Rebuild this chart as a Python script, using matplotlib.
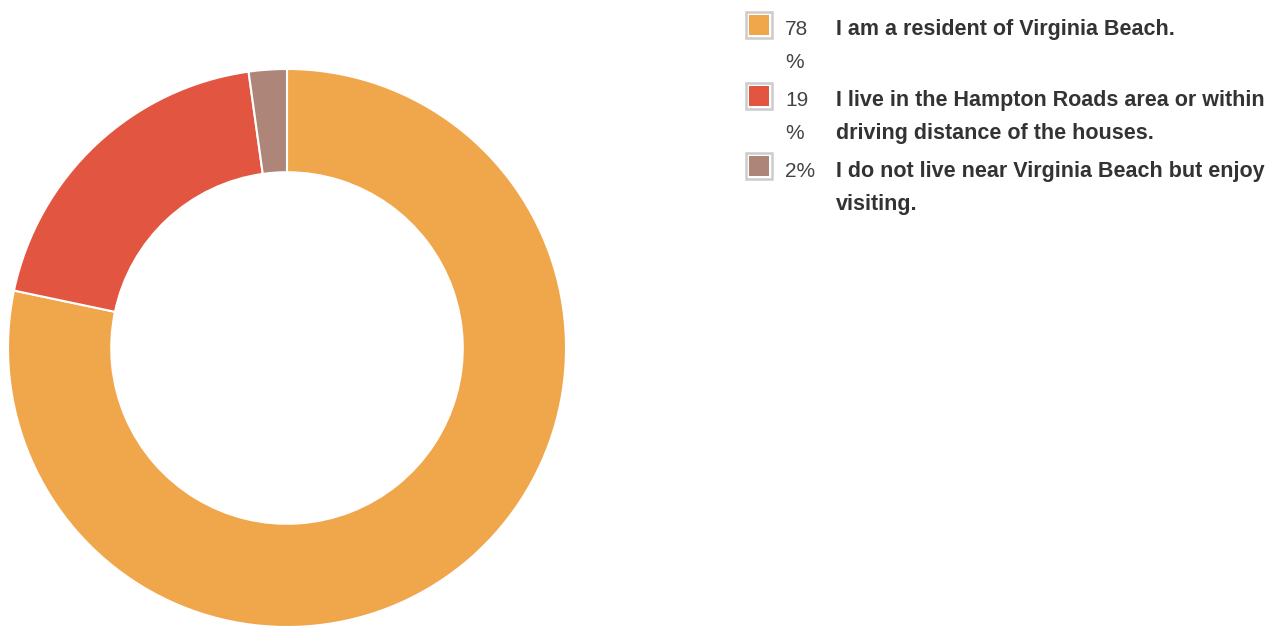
import matplotlib
matplotlib.use('Agg')
import matplotlib.pyplot as plt
from matplotlib.patches import Rectangle

labels = [['I am a resident of Virginia Beach.'],
          ['I live in the Hampton Roads area or within', 'driving distance of the houses.'],
          ['I do not live near Virginia Beach but enjoy', 'visiting.']]
pct_labels = [['78', '%'], ['19', '%'], ['2%']]
values = [78.3, 19.5, 2.2]
colors = ['#F0A64A', '#E25641', '#AD8579']

W, H = 1283, 627
fig = plt.figure(figsize=(W / 100, H / 100), dpi=100)
plt.rcParams['font.family'] = ['Liberation Sans', 'DejaVu Sans']

ax = fig.add_axes([8 / W, 0, 558 / W, 558 / H])
ax.pie(values, colors=colors, startangle=90, counterclock=False, radius=1,
       wedgeprops=dict(width=0.37, edgecolor='white', linewidth=1.5))
ax.set_xlim(-1, 1)
ax.set_ylim(-1, 1)
ax.set_aspect('equal')
ax.axis('off')

# legend drawn by hand
box_tops = [12, 83, 153]
baselines = [35, 106, 177]
step = 33
for i in range(3):
    y0 = box_tops[i]
    fig.patches.append(Rectangle((746 / W, 1 - (y0 + 26) / H), 26 / W, 26 / H,
                                 transform=fig.transFigure, facecolor='white',
                                 edgecolor='#cccccc', linewidth=1.8))
    fig.patches.append(Rectangle((749 / W, 1 - (y0 + 23) / H), 20 / W, 20 / H,
                                 transform=fig.transFigure, facecolor=colors[i],
                                 edgecolor='none'))
    for j, s in enumerate(pct_labels[i]):
        fig.text(785 / W, 1 - (baselines[i] + j * step) / H, s, fontsize=15,
                 color='#444444', va='baseline', ha='left')
    for j, s in enumerate(labels[i]):
        fig.text(836 / W, 1 - (baselines[i] + j * step) / H, s, fontsize=15.5,
                 color='#333333', fontweight='bold', va='baseline', ha='left')

fig.savefig('out.png', dpi=100, facecolor='white')
